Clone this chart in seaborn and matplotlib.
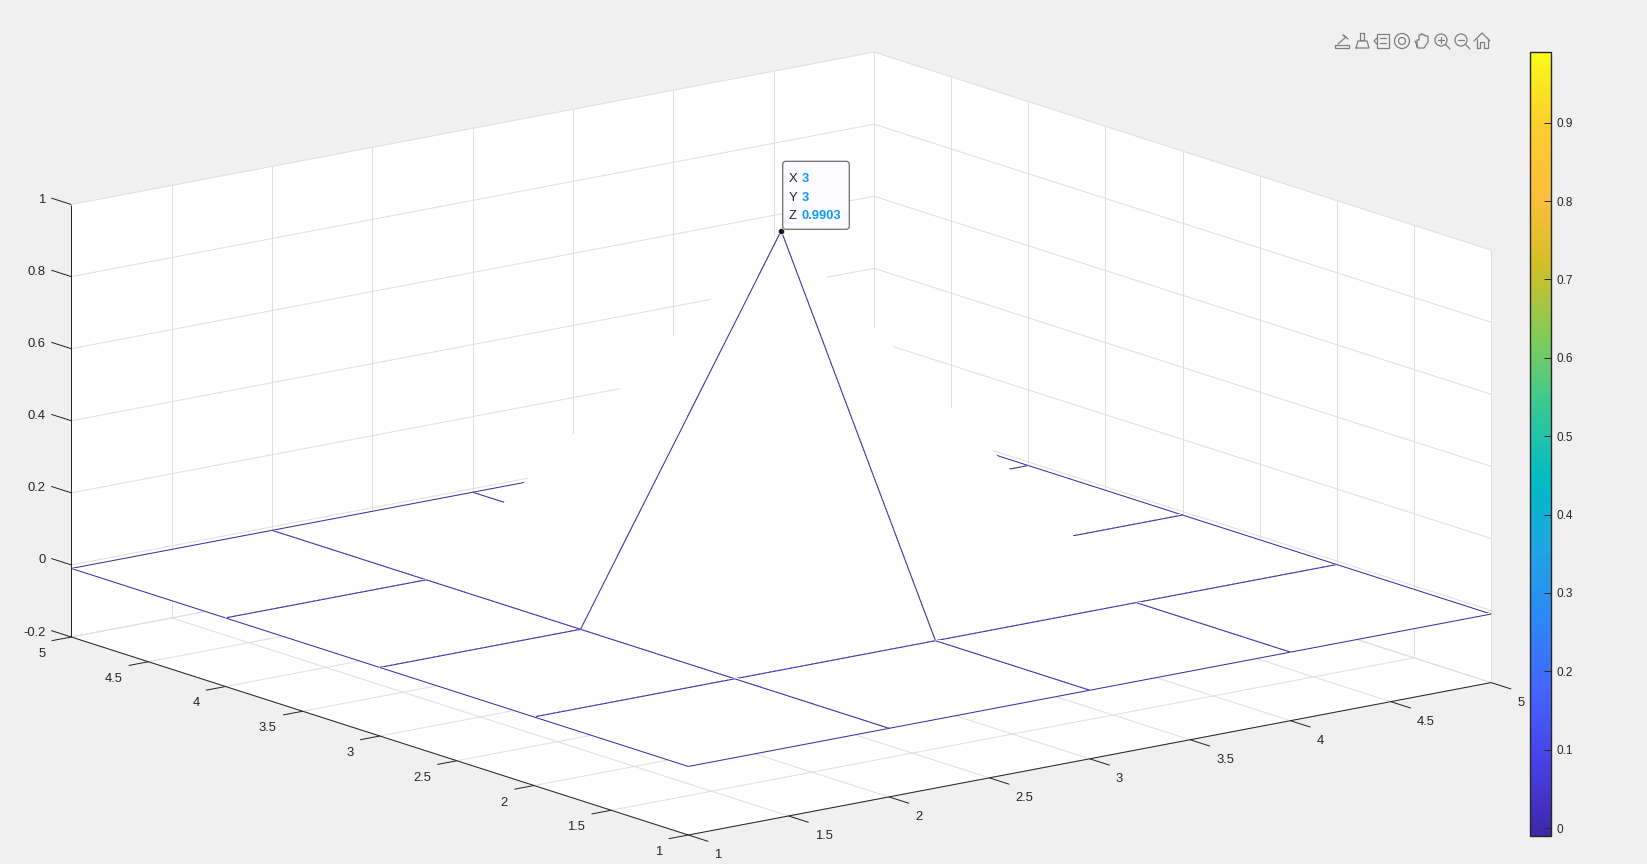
import seaborn as sns
import matplotlib
matplotlib.use("Agg")
import matplotlib.pyplot as plt
from matplotlib.cm import ScalarMappable
from matplotlib.colors import Normalize
from matplotlib.patches import Circle, FancyBboxPatch, Rectangle

# mesh data
x_vals = [1, 2, 3, 4, 5]
y_vals = [1, 2, 3, 4, 5]
z_base = -0.0098
z_peak = 0.9903
Z = [[z_base, z_base, z_base, z_base, z_base],
     [z_base, z_base, z_base, z_base, z_base],
     [z_base, z_base, z_peak, z_base, z_base],
     [z_base, z_base, z_base, z_base, z_base],
     [z_base, z_base, z_base, z_base, z_base]]

# tick values and labels
xy_ticks = [1, 1.5, 2, 2.5, 3, 3.5, 4, 4.5, 5]
xy_labels = ["1", "1.5", "2", "2.5", "3", "3.5", "4", "4.5", "5"]
z_ticks = [-0.2, 0, 0.2, 0.4, 0.6, 0.8, 1]
z_labels = ["-0.2", "0", "0.2", "0.4", "0.6", "0.8", "1"]
cbar_ticks = [0, 0.1, 0.2, 0.3, 0.4, 0.5, 0.6, 0.7, 0.8, 0.9]
cbar_labels = ["0", "0.1", "0.2", "0.3", "0.4", "0.5", "0.6", "0.7", "0.8", "0.9"]

# data tip
tip_x = 3
tip_y = 3
tip_rows = [("X", "3"), ("Y", "3"), ("Z", "0.9903")]

# parula colours
parula = [(0.2422, 0.1504, 0.6603), (0.2783, 0.2559, 0.8991), (0.2699, 0.3892, 0.9906),
          (0.1786, 0.5289, 0.9682), (0.1248, 0.6459, 0.8883), (0.0067, 0.7312, 0.7660),
          (0.2161, 0.7843, 0.5923), (0.5044, 0.7993, 0.3480), (0.8203, 0.7498, 0.1535),
          (0.9956, 0.7434, 0.2371), (0.9892, 0.8063, 0.1818), (0.9769, 0.9839, 0.0805)]

W, H = 1647, 864
BG = "#F0F0F0"
DARK = "#262626"
GRID = "#DFDFDF"
MESH = "#3E26A8"
LW = 0.72

sns.set_theme(style="white", rc={"lines.solid_capstyle": "butt"})
plt.rcParams["font.family"] = ["Liberation Sans", "DejaVu Sans"]
cmap = sns.blend_palette(parula, n_colors=256, as_cmap=True)

fig = plt.figure(figsize=(W / 100, H / 100), dpi=100, facecolor=BG)
# axes in picture pixels, the 3d box is projected onto it
ax = fig.add_axes([0, 0, 1, 1])
ax.set_xlim(0, W)
ax.set_ylim(H, 0)
ax.axis("off")


def to_px(x, y, z):
    # stretched orthographic view of the matlab axes
    return (688.3 + 200.7 * (x - 1) - 154.25 * (y - 1),
            835.0 - 38.1 * (x - 1) - 49.5 * (y - 1) - 360.4 * (z + 0.2))


def line3(a, b, **kwargs):
    pa, pb = to_px(*a), to_px(*b)
    ax.plot([pa[0], pb[0]], [pa[1], pb[1]], **kwargs)


def fill3(points, **kwargs):
    px = [to_px(*p) for p in points]
    ax.fill([p[0] for p in px], [p[1] for p in px], color="white", lw=0, **kwargs)


xmin, xmax = x_vals[0], x_vals[-1]
ymin, ymax = y_vals[0], y_vals[-1]
zmin, zmax = z_ticks[0], z_ticks[-1]

# white walls and floor
fill3([(xmin, ymin, zmin), (xmax, ymin, zmin), (xmax, ymax, zmin), (xmin, ymax, zmin)], zorder=1)
fill3([(xmin, ymax, zmin), (xmax, ymax, zmin), (xmax, ymax, zmax), (xmin, ymax, zmax)], zorder=1)
fill3([(xmax, ymin, zmin), (xmax, ymax, zmin), (xmax, ymax, zmax), (xmax, ymin, zmax)], zorder=1)

# grid lines
grid_kw = dict(color=GRID, lw=LW, zorder=2)
for t in xy_ticks:
    line3((t, ymin, zmin), (t, ymax, zmin), **grid_kw)
    line3((t, ymax, zmin), (t, ymax, zmax), **grid_kw)
    line3((xmin, t, zmin), (xmax, t, zmin), **grid_kw)
    line3((xmax, t, zmin), (xmax, t, zmax), **grid_kw)
for t in z_ticks:
    line3((xmin, ymax, t), (xmax, ymax, t), **grid_kw)
    line3((xmax, ymin, t), (xmax, ymax, t), **grid_kw)

# mesh, painted back to front, each cell split in two triangles like matlab does
zo = 10
cells = sorted(((i, j) for i in range(4) for j in range(4)), key=lambda c: -(c[0] + c[1]))
for i, j in cells:
    p00 = (x_vals[i], y_vals[j], Z[i][j])
    p10 = (x_vals[i + 1], y_vals[j], Z[i + 1][j])
    p01 = (x_vals[i], y_vals[j + 1], Z[i][j + 1])
    p11 = (x_vals[i + 1], y_vals[j + 1], Z[i + 1][j + 1])
    for tri, edges in [((p11, p01, p10), [(p11, p01), (p11, p10)]),
                       ((p00, p10, p01), [(p00, p10), (p00, p01)])]:
        fill3(tri, antialiased=False, zorder=zo)
        zo += 1
        for a, b in edges:
            line3(a, b, color=MESH, lw=LW, zorder=zo)
        zo += 1

# axis lines and ticks
axis_kw = dict(color=DARK, lw=LW, zorder=200)
line3((xmin, ymin, zmin), (xmax, ymin, zmin), **axis_kw)
line3((xmin, ymin, zmin), (xmin, ymax, zmin), **axis_kw)
line3((xmin, ymax, zmin), (xmin, ymax, zmax), **axis_kw)
for t in xy_ticks:
    line3((t, ymin, zmin), (t, ymin - 0.13, zmin), **axis_kw)
    line3((xmin, t, zmin), (xmin - 0.098, t, zmin), **axis_kw)
for t in z_ticks:
    line3((xmin, ymax, t), (xmin, ymax + 0.13, t), **axis_kw)

TICK_FS = 9.4
for t, s in zip(xy_ticks, xy_labels):
    px, py = to_px(t, ymin, zmin)
    ax.text(px + 26, py + 20.5, s, ha="left", va="center", fontsize=TICK_FS, color=DARK)
    px, py = to_px(xmin, t, zmin)
    ax.text(px - 26, py + 17, s, ha="right", va="center", fontsize=TICK_FS, color=DARK)
for t, s in zip(z_ticks, z_labels):
    px, py = to_px(xmin, ymax, t)
    ax.text(px - 26, py - 4.5, s, ha="right", va="center", fontsize=TICK_FS, color=DARK)

# peak marker and data tip
peak_px = to_px(tip_x, tip_y, z_peak)
ax.add_patch(FancyBboxPatch((782.7, 161.3), 66.6, 68, boxstyle="round,pad=0,rounding_size=3",
                            fc="#FAFAFF", ec="#6E6E6E", lw=0.9, zorder=300))
ax.plot([peak_px[0]], [peak_px[1]], marker="o", ms=4.5, mfc="#1a1a1a", mec="#f5f5d0", mew=0.5,
        ls="none", zorder=301)
for (name, val), ty in zip(tip_rows, [178.7, 197.7, 216.3]):
    ax.text(789, ty, name, ha="left", va="center", fontsize=9.4, color=DARK, zorder=302)
    ax.text(802, ty, val, ha="left", va="center", fontsize=9.3, color="#0A9BFF",
            fontweight="bold", zorder=302)

# toolbar icons
ICON = "#7F7F7F"
kw = dict(color=ICON, lw=0.9, solid_capstyle="round")
ax.plot([1335, 1349, 1349, 1335, 1335], [48, 48, 45, 45, 48], **kw)
ax.plot([1338, 1346, 1343, 1348], [44, 37, 35, 39], **kw)
ax.plot([1360, 1364, 1364, 1360, 1360], [33, 33, 40, 40, 33], **kw)
ax.plot([1356, 1369, 1367, 1358, 1356], [48, 48, 41, 41, 48], **kw)
ax.add_patch(Rectangle((1377, 33.5), 12, 14.5, fc="none", ec=ICON, lw=0.9))
ax.plot([1380, 1386], [38, 38], **kw)
ax.plot([1380, 1386], [43, 43], **kw)
ax.plot([1377, 1374, 1377], [38, 41, 44], **kw)
ax.add_patch(Circle((1402, 41), 7.5, fc="none", ec=ICON, lw=0.9))
ax.add_patch(Circle((1402, 41), 3.5, fc="none", ec=ICON, lw=0.9))
ax.plot([1417, 1417, 1419, 1419, 1421, 1421, 1423, 1423, 1425, 1425, 1428, 1428, 1424, 1418, 1415],
        [47, 40, 40, 35, 35, 34, 34, 35, 35, 36, 36, 42, 48, 48, 41], **kw)
for cx, plus in [(1441, True), (1461, False)]:
    ax.add_patch(Circle((cx, 40), 6, fc="none", ec=ICON, lw=0.9))
    ax.plot([cx + 4.5, cx + 9], [44.5, 49], **kw)
    ax.plot([cx - 3, cx + 3], [40, 40], **kw)
    if plus:
        ax.plot([cx, cx], [37, 43], **kw)
ax.plot([1474, 1482, 1490], [41, 33, 41], **kw)
ax.plot([1476.5, 1476.5, 1480, 1480, 1484, 1484, 1487.5, 1487.5],
        [39, 48, 48, 42, 42, 48, 48, 39], **kw)

# colorbar, seaborn puts the ticks below the colours unless told otherwise
cax = fig.add_axes([1530.3 / W, 1 - 835.7 / H, 20.4 / W, 783.7 / H])
cb = fig.colorbar(ScalarMappable(norm=Normalize(z_base, z_peak), cmap=cmap), cax=cax)
cb.set_ticks(cbar_ticks, labels=cbar_labels)
cb.ax.set_axisbelow(False)
cb.ax.tick_params(direction="in", right=True, length=5, width=0.72, color=DARK, pad=4,
                  labelsize=8.5, labelcolor=DARK)
cb.outline.set_edgecolor(DARK)
cb.outline.set_linewidth(1.0)

fig.savefig("out.png", dpi=100, facecolor=BG)
